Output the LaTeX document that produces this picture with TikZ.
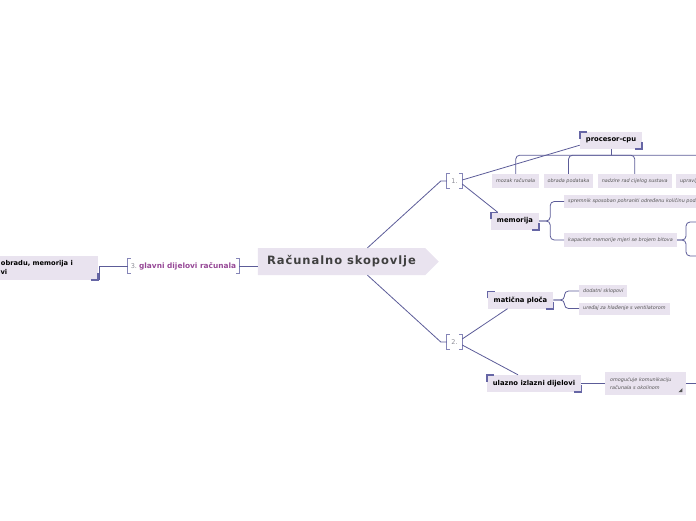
\documentclass[tikz,border=0pt]{standalone}
\usepackage{fontspec}
\setmainfont{DejaVu Sans}
\newfontfamily\titlefont{DejaVu Sans}[LetterSpace=8]
\usetikzlibrary{shapes.symbols}
\usetikzlibrary{positioning}
\definecolor{lnc}{RGB}{92,92,152}
\definecolor{brkc}{RGB}{102,102,165}
\definecolor{boxc}{RGB}{233,227,239}
\definecolor{subtxt}{RGB}{85,85,85}
\definecolor{numc}{RGB}{140,140,150}
\definecolor{purp}{RGB}{150,72,150}
\definecolor{roottxt}{RGB}{64,64,64}
\tikzset{
	conn/.style={draw=lnc,line width=0.8pt},
	brk/.style={draw=brkc,line width=1.6pt},
	numbrk/.style={draw=brkc!80,line width=0.8pt},
	topic/.style={fill=boxc,inner xsep=6pt,inner ysep=0pt,minimum height=17pt,font=\fontsize{6.8}{8}\selectfont\bfseries},
	subtopic/.style={fill=boxc,inner xsep=4pt,inner ysep=0pt,minimum height=14pt,text=subtxt,font=\fontsize{4.9}{6}\selectfont\itshape},
	numlbl/.style={inner xsep=3pt,inner ysep=0pt,minimum width=15pt,minimum height=14pt,text=numc,font=\fontsize{6.5}{8}\selectfont},
}
\newcommand{\corners}[1]{
	\draw[brk] ([yshift=-7]#1.north west) -- (#1.north west) -- ([xshift=7]#1.north west);
	\draw[brk] ([yshift=7]#1.south east) -- (#1.south east) -- ([xshift=-7]#1.south east);
}
\newcommand{\numbrackets}[1]{
	\draw[numbrk] ([xshift=3]#1.north west) -- (#1.north west) -- (#1.south west) -- ([xshift=3]#1.south west);
	\draw[numbrk] ([xshift=-3]#1.north east) -- (#1.north east) -- (#1.south east) -- ([xshift=-3]#1.south east);
}
\begin{document}
\begin{tikzpicture}[x=1pt,y=-1pt]
	\useasboundingbox (0,0) rectangle (696,520);
	% central topic
	\node (root) [signal,signal to=east,signal from=nowhere,fill=boxc,minimum width=181pt,minimum height=27pt,inner sep=0pt,text=roottxt,font=\titlefont\fontsize{11.5}{13}\selectfont\bfseries] at (341.5,261.5) {Računalno skopovlje};
	% left branch
	\node (glavni) [numlbl] at (183.5,266) {3.\ \textcolor{purp}{\fontsize{7.4}{9}\selectfont\bfseries glavni dijelovi računala}};
	\numbrackets{glavni}
	\draw[conn] (glavni.east) -- (glavni.east -| root.west);
	\node (lbox) [fill=boxc,anchor=east,inner xsep=0pt,inner ysep=1pt,minimum height=24pt,font=\fontsize{6.7}{9}\selectfont\bfseries] at (98,268) {\begin{tabular}{@{}l@{\hspace{25pt}}}središnja jedinica za obradu, memorija i\\ulazno i izlazni dijelovi\end{tabular}};
	\corners{lbox}
	\draw[conn] (glavni.west) -| ([xshift=1]lbox.south east);
	% numbered groups
	\node (n1) [numlbl] at (454.5,181) {1.};
	\node (n2) [numlbl] at (454.5,342) {2.};
	\numbrackets{n1}
	\numbrackets{n2}
	\draw[conn] ([xshift=26]root.north) -- ([xshift=-6]n1.west) -- (n1.west);
	\draw[conn] ([xshift=26]root.south) -- ([xshift=-6]n2.west) -- (n2.west);
	% main topics
	\node (cpu) [topic] at (611,140.5) {procesor-cpu};
	\node (mem) [topic] at (515,221) {memorija};
	\node (ploca) [topic] at (520.5,300) {matična ploča};
	\node (ulaz) [topic] at (534,383.5) {ulazno izlazni dijelovi};
	\foreach \t in {cpu,mem,ploca,ulaz} \corners{\t};
	\draw[conn] ([yshift=1]n1.east) -- ([yshift=4]cpu.south west);
	\draw[conn] ([yshift=-3]n1.east) -- ([xshift=7]mem.north west);
	\draw[conn] ([yshift=3]n2.east) -- ([xshift=-13]ploca.south);
	\draw[conn] ([yshift=-3]n2.east) -- ([xshift=-16]ulaz.north);
	% procesor
	\node (mozak) [subtopic,anchor=west] at (492,181) {mozak računala};
	\node (obrada) [subtopic,right=4pt of mozak] {obrada podataka};
	\node (nadzor) [subtopic,right=4pt of obrada] {nadzire rad cijelog sustava};
	\node (uprav) [subtopic,right=4pt of nadzor] {upravlja radom računala};
	\coordinate (bar) at ([yshift=-6]cpu.south);
	\draw[conn] (cpu.south) -- (bar);
	\foreach \s in {mozak,obrada,nadzor,uprav} \draw[conn,rounded corners=4pt] (bar) -| (\s.north);
	% memorija
	\node (sprem) [subtopic,anchor=west,minimum height=13pt] at (564,201.5) {spremnik sposoban pohraniti određenu količinu podataka};
	\node (kapac) [subtopic,anchor=west] at (564,240) {kapacitet memorije mjeri se brojem bitova};
	\foreach \s in {sprem,kapac} \draw[conn,rounded corners=4pt] (mem.east) -- ([xshift=11]mem.east) |- (\s.west);
	\coordinate (kap1) at (720,222);
	\coordinate (kap2) at (720,256);
	\foreach \s in {kap1,kap2} \draw[conn,rounded corners=4pt] (kapac.east) -- ([xshift=9]kapac.east) |- (\s);
	% maticna ploca
	\node (dodatni) [subtopic,anchor=west,minimum height=12pt] at (579,291) {dodatni sklopovi};
	\node (hladenje) [subtopic,anchor=west,minimum height=12pt] at (579,308.5) {uređaj za hlađenje s ventilatorom};
	\foreach \s in {dodatni,hladenje} \draw[conn,rounded corners=4pt] (ploca.east) -- ([xshift=11]ploca.east) |- (\s.west);
	% ulazno izlazni
	\node (komun) [subtopic,anchor=west,align=left,text width=71pt,inner xsep=5pt,minimum height=23pt,font=\fontsize{4.9}{7.5}\selectfont\itshape] at (605,383.5) {omogućuje komunikaciju\\računala s okolinom};
	\fill[subtxt] ([xshift=-4,yshift=3]komun.south east) -- ++(0,-4) -- ++(-4,4) -- cycle;
	\draw[conn] (ulaz.east) -- (komun.west);
	\coordinate (komun1) at (720,383.5);
	\draw[conn] (komun.east) -- (komun1);
\end{tikzpicture}
\end{document}
